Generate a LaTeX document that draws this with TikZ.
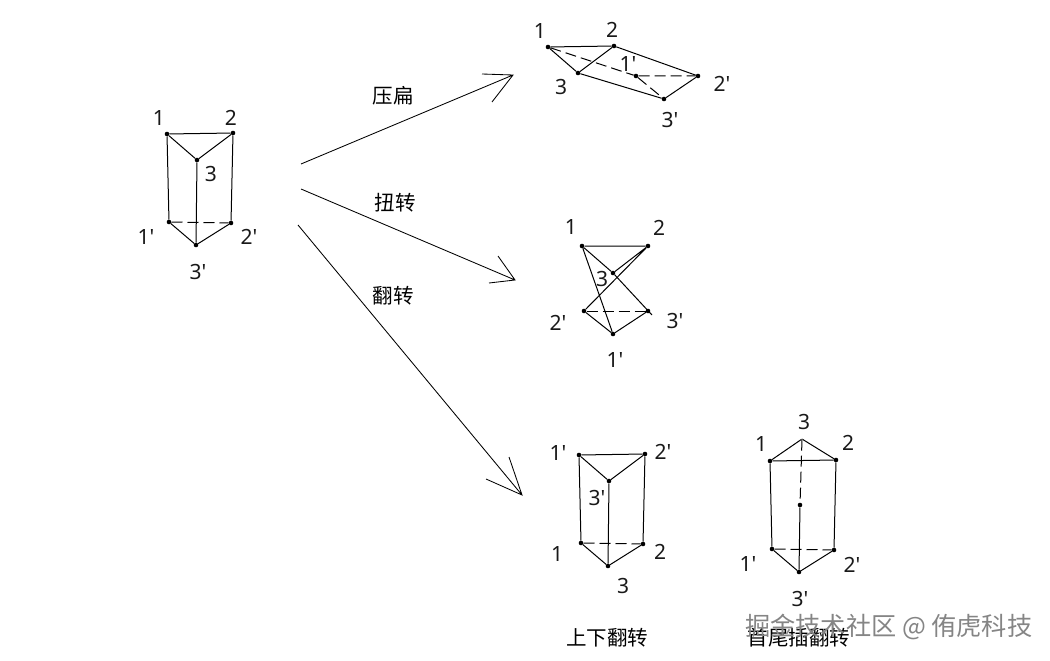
\documentclass[tikz,border=0pt]{standalone}
\usepackage{fontspec}
\setmainfont{Noto Sans}
\newfontfamily\numfont{Noto Sans}
\newfontfamily\cjk{Noto Sans CJK SC}
\tikzset{
  vtx/.style={circle,fill=black,inner sep=0pt,minimum size=4.6pt},
  solidedge/.style={draw=black,line width=1pt},
  hid/.style={draw=black,line width=1pt,dash pattern=on 11pt off 5pt},
  arrowline/.style={draw=black,line width=0.85pt},
  num/.style={inner sep=0pt,font=\numfont\fontsize{21}{24}\selectfont,text=black!90},
  captext/.style={inner sep=0pt,font=\cjk\fontsize{20.5}{24}\selectfont,text=black},
  marktext/.style={inner sep=0pt,font=\cjk\fontsize{25.2}{28}\selectfont,text=black!48}
}
\begin{document}
\begin{tikzpicture}[x=1pt,y=-1pt]
\useasboundingbox (0,0) rectangle (1050,661);
% prism A
\node[vtx] (a1) at (167,134) {};
\node[vtx] (a2) at (233,133) {};
\node[vtx] (a3) at (197,160) {};
\node[vtx] (a4) at (169,222) {};
\node[vtx] (a5) at (231,223) {};
\node[vtx] (a6) at (196,245) {};
\draw[solidedge] (a1)--(a2) (a1)--(a3) (a2)--(a3) (a1)--(a4) (a2)--(a5) (a3)--(a6) (a4)--(a6) (a5)--(a6);
\draw[hid] (a4)--(a5);
\node[num] (la1) at (159,118) {1};
\node[num] (la2) at (231,118) {2};
\node[num] (la3) at (211,174) {3};
\node[num] (la4) at (146,237) {1'};
\node[num] (la5) at (249,237) {2'};
\node[num] (la6) at (198,272) {3'};
% prism B
\node[vtx] (b1) at (548,47) {};
\node[vtx] (b2) at (614,46) {};
\node[vtx] (b3) at (578,73) {};
\node[vtx] (b4) at (636,76) {};
\node[vtx] (b5) at (698,76) {};
\node[vtx] (b6) at (664,99) {};
\draw[solidedge] (b1)--(b2) (b1)--(b3) (b2)--(b3) (b3)--(b6) (b2)--(b5) (b6)--(b5);
\draw[hid] (b1)--(b4) (b4)--(b5) (b4)--(b6);
\node[num] (lb1) at (540,31) {1};
\node[num] (lb2) at (612,30) {2};
\node[num] (lb3) at (561,87) {3};
\node[num] (lb4) at (628,64) {1'};
\node[num] (lb5) at (722,84) {2'};
\node[num] (lb6) at (670,120) {3'};
% prism C
\node[vtx] (c1) at (582,246) {};
\node[vtx] (c2) at (648,246) {};
\node[vtx] (c3) at (613,273) {};
\node[vtx] (c4) at (613,334) {};
\node[vtx] (c5) at (584,311) {};
\node[vtx] (c6) at (648,311) {};
\coordinate (c7) at (652,315);
\draw[solidedge] (c1)--(c2) (c1)--(c3) (c2)--(c3) (c1)--(c4) (c2)--(c5) (c3)--(c7) (c5)--(c4) (c4)--(c6);
\draw[hid] (c5)--(c6);
\node[num] (lc1) at (571,227) {1};
\node[num] (lc2) at (659,228) {2};
\node[num] (lc3) at (602,279) {3};
\node[num] (lc4) at (615,360) {1'};
\node[num] (lc5) at (558,323) {2'};
\node[num] (lc6) at (675,321) {3'};
% prism D
\node[vtx] (d1) at (579,455) {};
\node[vtx] (d2) at (645,454) {};
\node[vtx] (d3) at (609,481) {};
\node[vtx] (d4) at (581,543) {};
\node[vtx] (d5) at (643,544) {};
\node[vtx] (d6) at (608,566) {};
\draw[solidedge] (d1)--(d2) (d1)--(d3) (d2)--(d3) (d1)--(d4) (d2)--(d5) (d3)--(d6) (d4)--(d6) (d5)--(d6);
\draw[hid] (d4)--(d5);
\node[num] (ld1) at (558,453) {1'};
\node[num] (ld2) at (663,452) {2'};
\node[num] (ld3) at (597,498) {3'};
\node[num] (ld4) at (557,554) {1};
\node[num] (ld5) at (660,552) {2};
\node[num] (ld6) at (623,586) {3};
% prism E
\node[vtx] (e1) at (770,461) {};
\node[vtx] (e2) at (836,460) {};
\node[vtx,minimum size=1pt] (e3) at (802,439) {};
\node[vtx] (e4) at (772,549) {};
\node[vtx] (e5) at (834,550) {};
\node[vtx] (e6) at (799,572) {};
\node[vtx] (e7) at (800,505) {};
\draw[solidedge] (e1)--(e2) (e3)--(e1) (e3)--(e2) (e1)--(e4) (e2)--(e5) (e7)--(e6) (e4)--(e6) (e5)--(e6);
\draw[hid] (e4)--(e5) (e3)--(e7);
\node[num] (le1) at (761,444) {1};
\node[num] (le2) at (848,443) {2};
\node[num] (le3) at (804,422) {3};
\node[num] (le4) at (748,564) {1'};
\node[num] (le5) at (852,565) {2'};
\node[num] (le6) at (800,599) {3'};
% arrows
\coordinate (p1) at (301,164); \coordinate (t1) at (513,75);
\coordinate (h1a) at (482,74); \coordinate (h1b) at (492,102);
\coordinate (p2) at (301,189); \coordinate (t2) at (515,280);
\coordinate (h2a) at (498,256); \coordinate (h2b) at (489,283);
\coordinate (p3) at (298,225); \coordinate (t3) at (522,495);
\coordinate (h3a) at (509,457); \coordinate (h3b) at (486,479);
\draw[arrowline] (p1)--(t1) (h1a)--(t1)--(h1b);
\draw[arrowline] (p2)--(t2) (h2a)--(t2)--(h2b);
\draw[arrowline] (p3)--(t3) (h3a)--(t3)--(h3b);
% captions
\node[captext] (t-ya) at (393,96) {压扁};
\node[captext] (t-niu) at (395,203) {扭转};
\node[captext] (t-fan) at (393,296) {翻转};
\node[captext] (t-sx) at (607,638) {上下翻转};
\node[captext] (t-sw) at (799,638) {首尾插翻转};
\node[marktext,anchor=west] (wm) at (745,627) {掘金技术社区 @ 侑虎科技};
\end{tikzpicture}
\end{document}
